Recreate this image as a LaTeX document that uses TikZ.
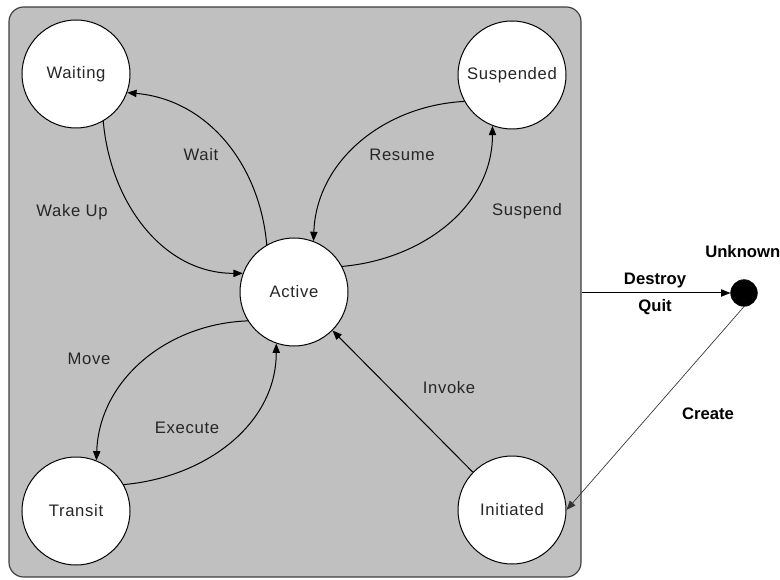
\documentclass[tikz,border=0pt]{standalone}
\usepackage{fontspec}
\setmainfont{Liberation Sans}
\usetikzlibrary{arrows.meta}
\begin{document}
\begin{tikzpicture}[x=0.75pt,y=-0.75pt,
  txt/.style={font=\fontsize{12.5}{15}\selectfont\addfontfeatures{LetterSpace=4}, text=black!85, inner sep=0pt},
  btxt/.style={font=\fontsize{12.5}{15}\selectfont\bfseries, text=black, inner sep=0pt},
  state/.style={circle, draw=black, fill=white, line width=0.75pt, minimum size=81pt, inner sep=0pt, txt},
  conn/.style={draw=black, line width=0.75pt, -{Triangle[length=7pt,width=5.5pt]}},
  thinconn/.style={draw=black!80, line width=0.5pt, -{Triangle[length=7pt,width=5.5pt]}},
  frame/.style={draw=black!75, fill={rgb,255:red,192;green,192;blue,192}, line width=0.9pt, rounded corners=11pt, minimum width=429pt, minimum height=427.5pt, inner sep=0pt}]
\useasboundingbox (0,0) rectangle (780,580);
\node[frame] (fr) at (295,292) {};
\node[state] (wait) at (76,74) {Waiting};
\node[state] (susp) at (512,75) {Suspended};
\node[state] (act) at (294,292) {Active};
\node[state] (trans) at (76,511) {Transit};
\node[state] (init) at (512,510) {Initiated};
\node[circle, fill=black, draw=black, minimum size=20pt, inner sep=0pt] (unk) at (744,293) {};
% labels
\node[txt] (lwait) at (201,155) {Wait};
\node[txt] (lwake) at (72,212) {Wake Up};
\node[txt] (lres) at (402,155) {Resume};
\node[txt] (lsus) at (527,211) {Suspend};
\node[txt] (lmove) at (89,359) {Move};
\node[txt] (lexec) at (187,428) {Execute};
\node[txt] (linv) at (449,388) {Invoke};
\node[btxt] (ldes) at (655,280) {Destroy};
\node[btxt] (lquit) at (655,307) {Quit};
\node[btxt] (lcre) at (708,414) {Create};
\node[btxt, anchor=west] (lunk) at (705,252) {Unknown};
% connectors
\draw[conn] (act.120) to[out=95, in=-5] (wait.-20);
\draw[conn] (wait.-60) to[out=-85, in=180] (act.160);
\draw[conn] (susp.209) to[out=183, in=88] (act.69);
\draw[conn] (act.28) to[out=5, in=-90] (susp.249);
\draw[conn] (act.212) to[out=182, in=88] (trans.68);
\draw[conn] (trans.29) to[out=5, in=-90] (act.251);
\draw[conn] (init.136) -- (act.315);
\draw[conn] (fr.east |- unk) -- (unk);
\draw[thinconn] (unk.south) -- (init.east);
\end{tikzpicture}
\end{document}
